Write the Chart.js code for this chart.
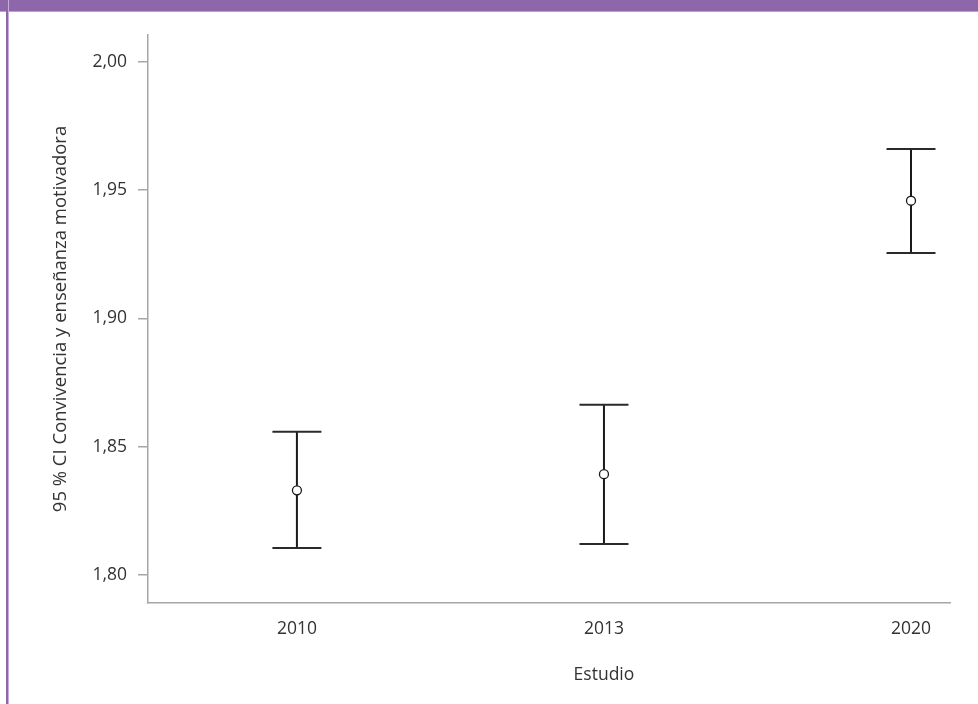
<!DOCTYPE html>
<html>
<head>
<meta charset="utf-8">
<script src="https://cdn.jsdelivr.net/npm/chart.js@4.4.1/dist/chart.umd.min.js"></script>
<style>
  html, body { margin: 0; padding: 0; background: #ffffff; }
  body { width: 978px; height: 704px; position: relative; overflow: hidden; }
  #topbar { position: absolute; left: 0; top: 0; width: 978px; height: 11px; background: #8e66aa; border-bottom: 1px solid #b9a2cc; z-index: 2; }
  #leftbar { position: absolute; left: 6px; top: 0; width: 2px; height: 704px; background: #8e66aa; border-right: 1px solid #c2aed6; z-index: 2; }
  #wrap { position: absolute; left: 0; top: 0; width: 978px; height: 704px; }
</style>
</head>
<body>
<div id="topbar"></div>
<div id="leftbar"></div>
<div id="wrap"><canvas id="c" width="978" height="704"></canvas></div>
<script>
// ---- data ----
const categories = ["2010", "2013", "2020"];
const meanValues = [1.833, 1.8393, 1.9459];
const lowerValues = [1.8105, 1.8121, 1.9255];
const upperValues = [1.8559, 1.8664, 1.9661];
const yTickValues = [1.80, 1.85, 1.90, 1.95, 2.00];
const yTickLabels = ["1,80", "1,85", "1,90", "1,95", "2,00"];
const yAxisTitle = "95 % CI Convivencia y enseñanza motivadora";
const xAxisTitle = "Estudio";

// ---- build datasets from the arrays ----
const stemData = [];
categories.forEach((c, i) => {
  stemData.push({ x: i, y: lowerValues[i] });
  stemData.push({ x: i, y: upperValues[i] });
  stemData.push({ x: i, y: null });
});
const capData = [];
categories.forEach((c, i) => {
  capData.push({ x: i, y: lowerValues[i] });
  capData.push({ x: i, y: upperValues[i] });
});
const meanData = categories.map((c, i) => ({ x: i, y: meanValues[i] }));

const FONT = "'Open Sans', Lato, sans-serif";
const TEXT = "#333333";

const xTitlePlugin = {
  id: 'xTitle',
  afterDraw(chart) {
    const ctx = chart.ctx;
    const xs = chart.scales.x;
    ctx.save();
    ctx.font = "17.5px " + FONT;
    ctx.fillStyle = TEXT;
    ctx.textAlign = "center";
    ctx.textBaseline = "middle";
    ctx.fillText(xAxisTitle, xs.getPixelForValue(1), 675);
    ctx.restore();
  }
};

new Chart(document.getElementById('c'), {
  type: 'scatter',
  data: {
    datasets: [
      {
        label: 'media',
        data: meanData,
        order: 0,
        pointStyle: 'circle',
        pointRadius: 4.5,
        pointBorderWidth: 1.3,
        pointBorderColor: '#1a1a1a',
        pointBackgroundColor: '#ffffff',
        showLine: false
      },
      {
        label: 'caps',
        data: capData,
        order: 1,
        pointStyle: 'line',
        pointRadius: 24.5,
        pointBorderWidth: 2,
        pointBorderColor: '#2a2a2a',
        showLine: false
      },
      {
        type: 'line',
        label: 'stems',
        data: stemData,
        order: 2,
        showLine: true,
        spanGaps: false,
        borderColor: '#1a1a1a',
        borderWidth: 2,
        pointRadius: 0,
        fill: false
      }
    ]
  },
  options: {
    responsive: false,
    animation: false,
    events: [],
    layout: { padding: { left: 0, top: 35, right: 28, bottom: 0 } },
    plugins: {
      legend: { display: false },
      tooltip: { enabled: false },
      title: { display: false }
    },
    scales: {
      x: {
        type: 'linear',
        min: -0.485,
        max: 2.127,
        afterBuildTicks: (s) => { s.ticks = categories.map((c, i) => ({ value: i })); },
        afterFit: (s) => { s.height = 101; },
        grid: { display: false, drawTicks: false },
        border: { display: true, color: '#a6a6a6', width: 1.5 },
        ticks: {
          padding: 16,
          color: TEXT,
          font: { family: FONT, size: 17.5 },
          callback: (v) => categories[v],
          maxRotation: 0,
          autoSkip: false
        },
        title: { display: false }
      },
      y: {
        type: 'linear',
        min: 1.7891,
        max: 2.0105,
        afterBuildTicks: (s) => { s.ticks = yTickValues.map(v => ({ value: v })); },
        afterFit: (s) => { s.width = 148; },
        grid: { drawOnChartArea: false, drawTicks: true, tickLength: 10, color: '#a6a6a6', lineWidth: 1.5 },
        border: { display: true, color: '#a6a6a6', width: 1.5 },
        ticks: {
          padding: 11,
          color: TEXT,
          font: { family: FONT, size: 17.5 },
          callback: (v) => { const i = yTickValues.findIndex(t => Math.abs(t - v) < 1e-9); return i >= 0 ? yTickLabels[i] : ''; },
          autoSkip: false
        },
        title: {
          display: true,
          text: yAxisTitle,
          color: TEXT,
          font: { family: FONT, size: 18.5 },
          padding: { top: 50, bottom: 0 }
        }
      }
    }
  },
  plugins: [xTitlePlugin]
});
</script>
</body>
</html>
